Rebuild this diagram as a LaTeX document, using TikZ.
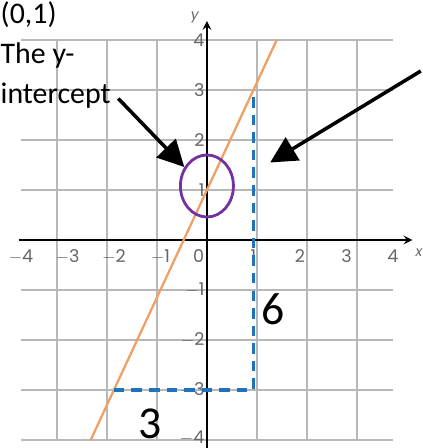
\documentclass[tikz,border=0pt]{standalone}
\usepackage{fontspec}
\setmainfont{Carlito}
\newfontfamily\tickfont{Poppins}
\usetikzlibrary{arrows.meta,shapes.geometric}
\definecolor{linecol}{RGB}{240,160,100}
\definecolor{dashcol}{RGB}{30,115,190}
\definecolor{ringcol}{RGB}{115,50,160}
\tikzset{
  ticklab/.style={text=black!60, font=\tickfont\normalsize, inner sep=1pt},
  hand/.style={font=\fontsize{17}{18}\selectfont, inner sep=0pt},
  bigarrow/.style={-{Triangle[length=15pt,width=15pt]}, line width=2pt},
}
\begin{document}
\begin{tikzpicture}[x=0.93cm, y=1cm, >=stealth, thick]
\useasboundingbox (-4.45,-4.16) rectangle (4.645,4.8);
\draw[black!28, line width=1.1pt] (-4,-4) grid (4,4);
\draw[->, line width=1.2pt] (-4.05,0) -- (4.42,0);
\draw[->, line width=1.2pt] (0,-4.16) -- (0,4.38);
\node[ticklab, font=\tickfont\footnotesize\itshape] (xlab) at (4.56,-0.25) {x};
\node[ticklab, font=\tickfont\footnotesize\itshape] (ylab) at (-0.26,4.45) {y};
% tick labels
\foreach \k in {-4,-3,-2,-1,1,2,3,4} {
  \node[ticklab] (xt\k) at (\k,-0.33) {\ifnum\k<0 $-$\the\numexpr-\k\relax\else\k\fi};
}
\foreach \k in {-3,-2,-1,1,2,3,4} {
  \node[ticklab, anchor=east] (yt\k) at (0,\k) {\ifnum\k<0 $-$\the\numexpr-\k\relax\else\k\fi};
}
\node[ticklab, anchor=south east] (yt-4) at (0,-4.14) {$-$4};
\node[ticklab] (zero) at (-0.18,-0.33) {0};
% line y = 2x + 1
\draw[linecol, line width=1.3pt] (-2.5,-4) -- (1.5,4);
% rise and run
\coordinate (p1) at (-2,-3);
\coordinate (p2) at (1,-3);
\coordinate (p3) at (1,2.85);
\draw[dashcol, line width=2pt, dash pattern=on 6pt off 4pt] (p1) -- (p2) -- (p3);
\node[hand, font=\fontsize{26}{26}\selectfont] (run) at (-1.23,-3.68) {3};
\node[hand, font=\fontsize{26}{26}\selectfont] (rise) at (1.42,-1.38) {6};
% y-intercept
\node[draw=ringcol, line width=1.6pt, ellipse, minimum width=1.14*0.93cm, minimum height=1.24cm, inner sep=0pt] (yint) at (0,1.08) {};
\node[hand, anchor=west] (pt) at (-4.45,4.5) {(0,1)};
\node[hand, anchor=west] (the) at (-4.45,3.68) {The y-};
\node[hand, anchor=west] (icpt) at (-4.45,2.88) {intercept};
\draw[bigarrow] (icpt.east) ++(0.15,-0.05) coordinate (a1) (a1) -- (yint.140);
\coordinate (a2) at (4.6,3.38);
\coordinate (a3) at (1.36,1.55);
\draw[bigarrow] (a2) -- (a3);
\end{tikzpicture}
\end{document}
